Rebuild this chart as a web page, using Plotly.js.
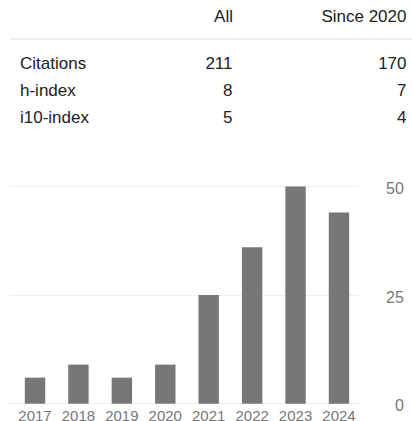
<!DOCTYPE html>
<html>
<head>
<meta charset="utf-8">
<script src="https://cdn.plot.ly/plotly-3.0.1.min.js"></script>
<style>
  html, body { margin:0; padding:0; background:#fff; }
  #wrap { position:relative; width:412px; height:421px; overflow:hidden; font-family:"Liberation Sans", Arial, sans-serif; }
  #chart { position:absolute; left:0; top:0; width:412px; height:421px; }
  .t { position:absolute; font-size:17px; line-height:17px; color:#222; white-space:nowrap; }
  .r { text-align:right; }
  #sep { position:absolute; left:10px; top:38px; width:402px; height:2px; background:#eeeeee; }
</style>
</head>
<body>
<div id="wrap">
  <div id="chart"></div>
  <div id="table"></div>
</div>
<script>
// Table data
const tableHeaders = ["All", "Since 2020"];
const rowLabels = ["Citations", "h-index", "i10-index"];
const allValues = [211, 8, 5];
const sinceValues = [170, 7, 4];

// Chart data
const years = ["2017", "2018", "2019", "2020", "2021", "2022", "2023", "2024"];
const citations = [6, 9, 6, 9, 25, 36, 50, 44];
const yTicks = [0, 25, 50];

// Build table
const tbl = document.getElementById("table");
function addText(txt, style) {
  const d = document.createElement("div");
  d.className = "t" + (style.right !== undefined ? " r" : "");
  d.textContent = txt;
  Object.keys(style).forEach(k => d.style[k] = style[k] + "px");
  tbl.appendChild(d);
}
addText(tableHeaders[0], {right: 412 - 233, top: 8});
addText(tableHeaders[1], {right: 412 - 406.5, top: 8});
const sep = document.createElement("div"); sep.id = "sep"; tbl.appendChild(sep);
const rowTops = [55, 82.3, 109];
rowLabels.forEach((lab, i) => {
  addText(lab, {left: 20, top: rowTops[i]});
  addText(String(allValues[i]), {right: 412 - 232.5, top: rowTops[i]});
  addText(String(sinceValues[i]), {right: 412 - 406.5, top: rowTops[i]});
});

// Chart
const trace = {
  type: "bar",
  x: years,
  y: citations,
  marker: { color: "#777777" },
  hoverinfo: "none"
};
const annotations = yTicks.map(v => ({
  xref: "paper", yref: "y",
  x: 1, y: v,
  xshift: 48, yshift: -2,
  xanchor: "right", yanchor: "middle",
  text: String(v),
  showarrow: false,
  font: { size: 16, color: "#777777", family: "Liberation Sans, Arial, sans-serif" }
}));
const layout = {
  width: 412,
  height: 421,
  margin: { l: 10, r: 54, t: 179.5, b: 16.4, pad: 0 },
  paper_bgcolor: "rgba(0,0,0,0)",
  plot_bgcolor: "rgba(0,0,0,0)",
  bargap: 0.53,
  showlegend: false,
  font: { family: "Liberation Sans, Arial, sans-serif", color: "#777777" },
  annotations: annotations,
  xaxis: {
    type: "category",
    range: [-0.576, 7.438],
    showgrid: false,
    zeroline: false,
    showline: false,
    ticks: "",
    tickfont: { size: 15, color: "#777777" },
    fixedrange: true
  },
  yaxis: {
    range: [-0.3, 51.5],
    side: "right",
    tickvals: yTicks,
    showticklabels: false,
    showgrid: true,
    gridcolor: "#eeeeee",
    gridwidth: 1,
    zeroline: true,
    zerolinecolor: "#eeeeee",
    zerolinewidth: 1,
    showline: false,
    ticks: "",
    fixedrange: true
  }
};
Plotly.newPlot("chart", [trace], layout, { displayModeBar: false, staticPlot: true });
</script>
</body>
</html>
